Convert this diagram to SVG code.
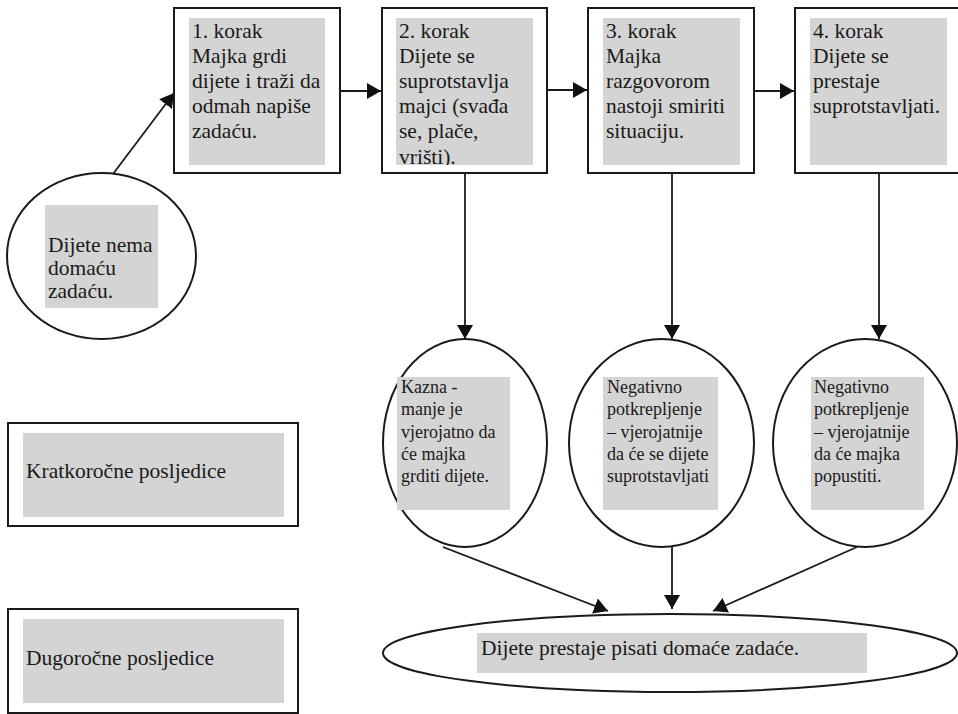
<svg xmlns="http://www.w3.org/2000/svg" width="958" height="714" viewBox="0 0 958 714">
<style>
  .frame { fill: #ffffff; stroke: #1a1a1a; stroke-width: 2; }
  .shade { fill: #d4d4d4; }
  .t { font-family: 'Liberation Serif', Tinos, 'Times New Roman', Times, 'DejaVu Serif', serif; font-size: 21.5px; fill: #1a1a1a; }
  .ts { font-family: 'Liberation Serif', Tinos, 'Times New Roman', Times, 'DejaVu Serif', serif; font-size: 18px; fill: #1a1a1a; }
  .conn { stroke: #1a1a1a; stroke-width: 1.8; fill: none; marker-end: url(#ah); }
</style>
<defs>
  <marker id="ah" markerUnits="userSpaceOnUse" markerWidth="15" markerHeight="16" refX="14" refY="8" orient="auto">
    <path d="M0,0 L14,8 L0,16 z" fill="#111111"/>
  </marker>
  <clipPath id="clip2"><rect x="396" y="18" width="137" height="147"/></clipPath>
</defs>
<rect width="958" height="714" fill="#ffffff"/>

<g id="start">
  <ellipse class="frame" cx="101.5" cy="256" rx="94.5" ry="83"/>
  <rect class="shade" x="45" y="205" width="113" height="103"/>
  <text class="t" font-family="Liberation Serif, serif"><tspan x="48" y="252">Dijete nema</tspan><tspan x="48" y="275">domaću</tspan><tspan x="48" y="298">zadaću.</tspan></text>
</g>

<g id="step1">
  <rect class="frame" x="174" y="8" width="166" height="165"/>
  <rect class="shade" x="189" y="18" width="136" height="147"/>
  <text class="t" font-family="Liberation Serif, serif"><tspan x="192" y="38">1. korak</tspan><tspan x="192" y="63">Majka grdi</tspan><tspan x="192" y="88">dijete i traži da</tspan><tspan x="192" y="113">odmah napiše</tspan><tspan x="192" y="138">zadaću.</tspan></text>
</g>

<g id="step2">
  <rect class="frame" x="382" y="8" width="165" height="165"/>
  <rect class="shade" x="396" y="18" width="137" height="147"/>
  <text class="t" font-family="Liberation Serif, serif" clip-path="url(#clip2)"><tspan x="399" y="38">2. korak</tspan><tspan x="399" y="63">Dijete se</tspan><tspan x="399" y="88">suprotstavlja</tspan><tspan x="399" y="113">majci (svađa</tspan><tspan x="399" y="138">se, plače,</tspan><tspan x="399" y="164">vrišti).</tspan></text>
</g>

<g id="step3">
  <rect class="frame" x="588" y="8" width="166" height="165"/>
  <rect class="shade" x="603" y="18" width="137" height="147"/>
  <text class="t" font-family="Liberation Serif, serif"><tspan x="606" y="38">3. korak</tspan><tspan x="606" y="63">Majka</tspan><tspan x="606" y="88">razgovorom</tspan><tspan x="606" y="113">nastoji smiriti</tspan><tspan x="606" y="138">situaciju.</tspan></text>
</g>

<g id="step4">
  <rect class="frame" x="795" y="8" width="170" height="165"/>
  <rect class="shade" x="810" y="18" width="137" height="147"/>
  <text class="t" font-family="Liberation Serif, serif"><tspan x="813" y="38">4. korak</tspan><tspan x="813" y="63">Dijete se</tspan><tspan x="813" y="88">prestaje</tspan><tspan x="813" y="113">suprotstavljati.</tspan></text>
</g>

<g id="kazna">
  <ellipse class="frame" cx="465" cy="443" rx="82" ry="104"/>
  <rect class="shade" x="397" y="377" width="113" height="133"/>
  <text class="ts" font-family="Liberation Serif, serif"><tspan x="401" y="393">Kazna -</tspan><tspan x="401" y="415">manje je</tspan><tspan x="401" y="438">vjerojatno da</tspan><tspan x="401" y="460">će majka</tspan><tspan x="401" y="482">grditi dijete.</tspan></text>
</g>

<g id="negativno1">
  <ellipse class="frame" cx="661.5" cy="443" rx="92.5" ry="104"/>
  <rect class="shade" x="603" y="377" width="115" height="133"/>
  <text class="ts" font-family="Liberation Serif, serif"><tspan x="607" y="393">Negativno</tspan><tspan x="607" y="415">potkrepljenje</tspan><tspan x="607" y="438">– vjerojatnije</tspan><tspan x="607" y="460">da će se dijete</tspan><tspan x="607" y="482">suprotstavljati</tspan></text>
</g>

<g id="negativno2">
  <ellipse class="frame" cx="865" cy="443" rx="92" ry="104"/>
  <rect class="shade" x="811" y="377" width="113" height="133"/>
  <text class="ts" font-family="Liberation Serif, serif"><tspan x="814" y="393">Negativno</tspan><tspan x="814" y="415">potkrepljenje</tspan><tspan x="814" y="438">– vjerojatnije</tspan><tspan x="814" y="460">da će majka</tspan><tspan x="814" y="482">popustiti.</tspan></text>
</g>

<g id="ishod">
  <ellipse class="frame" cx="670" cy="653" rx="287" ry="39"/>
  <rect class="shade" x="477" y="633" width="390" height="40"/>
  <text class="t" font-family="Liberation Serif, serif" x="481" y="655">Dijete prestaje pisati domaće zadaće.</text>
</g>

<g id="kratkorocne">
  <rect class="frame" x="8" y="423" width="290" height="103"/>
  <rect class="shade" x="23" y="433" width="261" height="84"/>
  <text class="t" font-family="Liberation Serif, serif" x="26" y="478">Kratkoročne posljedice</text>
</g>

<g id="dugorocne">
  <rect class="frame" x="8" y="609" width="290" height="104"/>
  <rect class="shade" x="23" y="619" width="261" height="84"/>
  <text class="t" font-family="Liberation Serif, serif" x="26" y="665">Dugoročne posljedice</text>
</g>

<g id="connectors">
  <line class="conn" x1="113" y1="174" x2="174" y2="93"/>
  <line class="conn" x1="340" y1="91" x2="381" y2="91"/>
  <line class="conn" x1="547" y1="90" x2="587" y2="90"/>
  <line class="conn" x1="754" y1="91" x2="794" y2="91"/>
  <line class="conn" x1="465" y1="173" x2="465" y2="339"/>
  <line class="conn" x1="672" y1="173" x2="672" y2="339"/>
  <line class="conn" x1="879" y1="173" x2="879" y2="339"/>
  <line class="conn" x1="443" y1="547" x2="608" y2="611"/>
  <line class="conn" x1="672" y1="547" x2="672" y2="609"/>
  <line class="conn" x1="857" y1="547" x2="713" y2="611"/>
</g>
</svg>
